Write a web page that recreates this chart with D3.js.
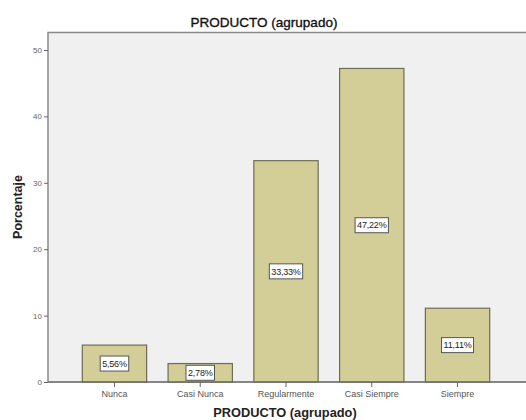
<!DOCTYPE html>
<html>
<head>
<meta charset="utf-8">
<script src="https://cdn.jsdelivr.net/npm/d3@7"></script>
<style>
  body { margin: 0; background: #fff; }
  svg { display: block; font-family: "Liberation Sans", Arial, sans-serif; }
</style>
</head>
<body>
<svg id="chart" width="526" height="420"></svg>
<script>
// Values
const categories = ["Nunca", "Casi Nunca", "Regularmente", "Casi Siempre", "Siempre"]
const values = [5.56, 2.78, 33.33, 47.22, 11.11]
const yTicks = [0, 10, 20, 30, 40, 50]

const svg = d3.select("#chart")
const mLeft = 48, mTop = 32.5, mRight = 524, mBottom = 382

const x = d3.scaleBand().domain(categories).range([mLeft, mRight]).paddingInner(0.25).paddingOuter(0.4)
const y = d3.scaleLinear().domain([0, 50]).range([mBottom, 50])

// plot frame
svg.append("rect")
  .attr("x", mLeft).attr("y", mTop)
  .attr("width", 540 - mLeft).attr("height", mBottom - mTop)
  .attr("fill", "#f0f0f0")
  .attr("stroke", "#8a8a8a")
  .attr("stroke-width", 1.5)

// bars
svg.append("g")
  .selectAll("rect")
  .data(values)
  .join("rect")
  .attr("x", (d, i) => x(categories[i]))
  .attr("y", d => y(d))
  .attr("width", x.bandwidth())
  .attr("height", d => y(0) - y(d))
  .attr("fill", "#d3ce97")
  .attr("stroke", "#6e6e55")
  .attr("stroke-width", 1.2)

// value labels in boxes, sized to the text
const labels = svg.append("g")
  .selectAll("g")
  .data(values)
  .join("g")
  .attr("transform", (d, i) => `translate(${x(categories[i]) + x.bandwidth() / 2},${y(d / 2)})`)
const boxes = labels.append("rect")
  .attr("fill", "#fff")
  .attr("stroke", "#555")
  .attr("stroke-width", 1)
labels.append("text")
  .attr("text-anchor", "middle")
  .attr("dy", "0.35em")
  .attr("font-size", 9)
  .attr("letter-spacing", -0.2)
  .attr("fill", "#222")
  .text(d => d.toFixed(2).replace(".", ",") + "%")
labels.each(function () {
  const w = d3.select(this).select("text").node().getComputedTextLength() + 4
  d3.select(this).select("rect")
    .attr("x", -w / 2).attr("y", -7.5)
    .attr("width", w).attr("height", 15)
})

// y axis
const yAxis = svg.append("g")
  .attr("transform", `translate(${mLeft},0)`)
  .call(d3.axisLeft(y).tickValues(yTicks).tickSize(4).tickPadding(2))
yAxis.select(".domain").remove()
yAxis.selectAll("line").attr("stroke", "#666")
yAxis.selectAll("text").attr("fill", "#666").attr("font-size", 8)

// x axis
const xAxis = svg.append("g")
  .attr("transform", `translate(0,${mBottom})`)
  .call(d3.axisBottom(x).tickSize(5).tickPadding(4))
xAxis.select(".domain").attr("stroke", "#666").attr("d", `M${mLeft},0H526`)
xAxis.selectAll("line").attr("stroke", "#666")
xAxis.selectAll("text").attr("fill", "#555").attr("font-size", 9)

// titles
svg.append("text")
  .attr("x", 264).attr("y", 27)
  .attr("text-anchor", "middle")
  .attr("font-size", 13.5)
  .attr("fill", "#111")
  .attr("stroke", "#111")
  .attr("stroke-width", 0.35)
  .text("PRODUCTO (agrupado)")

svg.append("text")
  .attr("x", 285).attr("y", 417)
  .attr("text-anchor", "middle")
  .attr("font-size", 12.8)
  .attr("font-weight", "bold")
  .attr("fill", "#222")
  .text("PRODUCTO (agrupado)")

svg.append("text")
  .attr("transform", "translate(22,207) rotate(-90)")
  .attr("text-anchor", "middle")
  .attr("font-size", 12.5)
  .attr("font-weight", "bold")
  .attr("fill", "#222")
  .text("Porcentaje")
</script>
</body>
</html>
